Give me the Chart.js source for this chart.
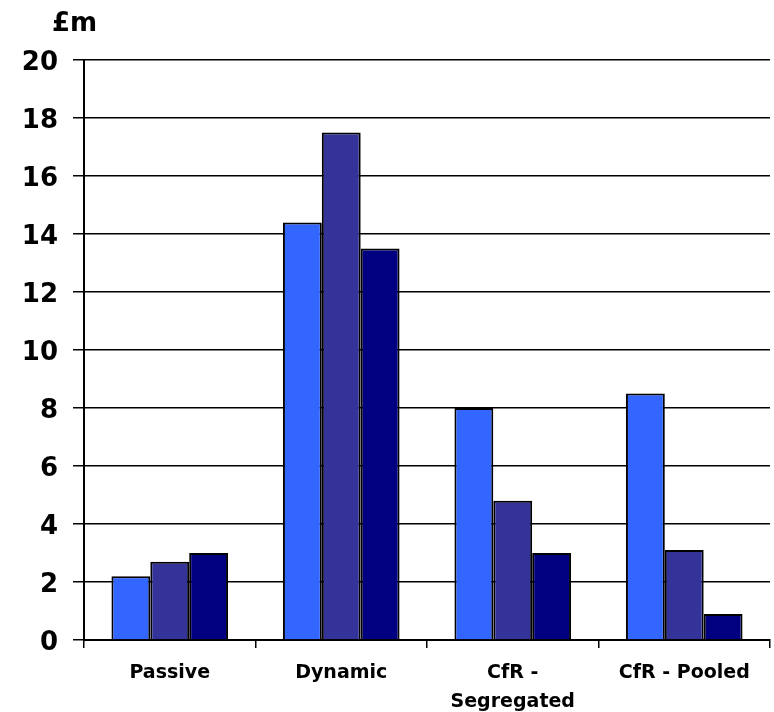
<!DOCTYPE html>
<html>
<head>
<meta charset="utf-8">
<script src="https://cdn.jsdelivr.net/npm/chart.js@4/dist/chart.umd.min.js"></script>
<style>
  html, body { margin: 0; padding: 0; background: #fff; }
  #wrap { width: 774px; height: 712px; position: relative; }
</style>
</head>
<body>
<div id="wrap"><canvas id="chart"></canvas></div>
<script>
// --- Data ---
const categories = ['Passive', 'Dynamic', ['CfR -', 'Segregated'], 'CfR - Pooled'];
const seriesA = [2.2, 14.4, 8.0, 8.5];
const seriesB = [2.7, 17.5, 4.8, 3.1];
const seriesC = [3.0, 13.5, 3.0, 0.9];
const yTicks = [0, 2, 4, 6, 8, 10, 12, 14, 16, 18, 20];
const unitLabel = '£m';

const FONT = "'DejaVu Sans', Verdana, sans-serif";

// draws the "£m" unit above the axis
const unitPlugin = {
  id: 'unitLabel',
  afterDraw(chart) {
    const c = chart.ctx;
    c.save();
    c.font = 'bold 26px ' + FONT;
    c.fillStyle = '#000';
    c.textBaseline = 'middle';
    c.fillText(unitLabel, 52, 24);
    c.restore();
  }
};

const ctx = document.getElementById('chart').getContext('2d');
new Chart(ctx, {
  type: 'bar',
  data: {
    labels: categories,
    datasets: [
      { data: seriesA, backgroundColor: '#3366FF' },
      { data: seriesB, backgroundColor: '#333399' },
      { data: seriesC, backgroundColor: '#000080' }
    ].map(d => Object.assign(d, {
      borderColor: '#000', borderWidth: 2,
      barPercentage: 1, categoryPercentage: 0.68
    }))
  },
  options: {
    responsive: true,
    maintainAspectRatio: false,
    animation: false,
    layout: { padding: { top: 60, right: 4, left: 0, bottom: 0 } },
    plugins: { legend: { display: false }, tooltip: { enabled: false } },
    scales: {
      x: {
        grid: { offset: true, drawOnChartArea: false, color: '#000', tickLength: 8, lineWidth: 1.5 },
        border: { color: '#000', width: 2 },
        ticks: { color: '#000', font: { family: FONT, size: 19, weight: 'bold', lineHeight: 1.5 }, padding: 11, maxRotation: 0 },
        afterFit(s) { s.height = 72; }
      },
      y: {
        min: 0, max: 20,
        afterBuildTicks(s) { s.ticks = yTicks.map(v => ({ value: v })); },
        grid: { color: '#000', lineWidth: 1.5, tickLength: 11 },
        border: { color: '#000', width: 2 },
        ticks: { color: '#000', font: { family: FONT, size: 26, weight: 'bold' }, padding: 15, labelOffset: 3 },
        afterFit(s) { s.width = 84; }
      }
    }
  },
  plugins: [unitPlugin]
});
</script>
</body>
</html>
